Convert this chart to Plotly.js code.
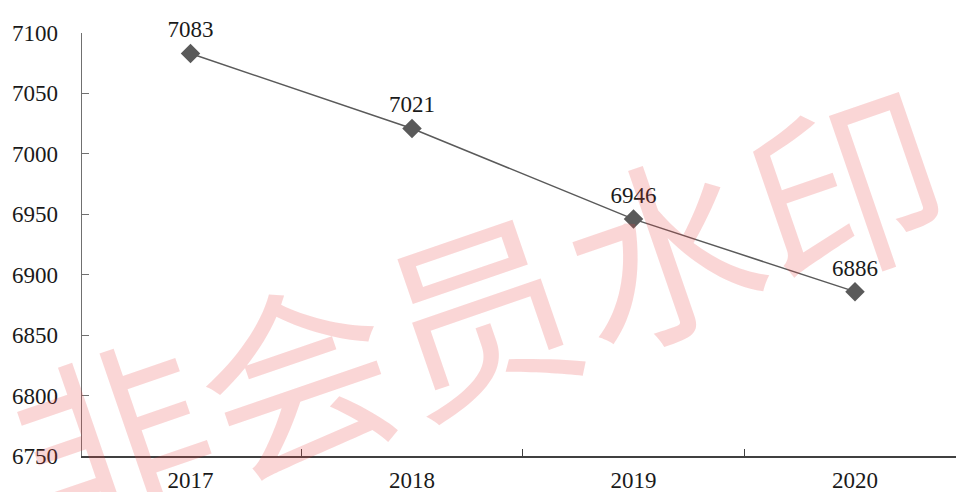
<!DOCTYPE html>
<html>
<head>
<meta charset="utf-8">
<script src="https://cdn.plot.ly/plotly-3.0.1.min.js"></script>
<style>html,body{margin:0;padding:0;background:#fff;}#chart{width:956px;height:492px;}</style>
</head>
<body>
<div id="chart"></div>
<script>
const years = ['2017', '2018', '2019', '2020'];
const values = [7083, 7021, 6946, 6886];
const yTickValues = [6750, 6800, 6850, 6900, 6950, 7000, 7050, 7100];
const watermarkText = '非会员水印';

const serif = 'Liberation Serif, Times New Roman, serif';

const trace = {
  x: years,
  y: values,
  type: 'scatter',
  mode: 'lines+markers+text',
  text: values.map(String),
  textposition: 'top center',
  textfont: {family: serif, size: 23, color: '#1a1a1a'},
  line: {color: '#5a5a5a', width: 1.5},
  marker: {symbol: 'diamond', size: 15, color: '#5a5a5a'},
  cliponaxis: false,
  hoverinfo: 'x+y'
};

const layout = {
  width: 956,
  height: 492,
  margin: {l: 82, r: 0, t: 33, b: 36},
  paper_bgcolor: '#ffffff',
  plot_bgcolor: '#ffffff',
  showlegend: false,
  xaxis: {
    type: 'category',
    range: [-0.49, 3.456],
    tickson: 'boundaries',
    ticks: 'inside',
    ticklen: 7,
    tickwidth: 1,
    tickcolor: '#404040',
    showline: true,
    linecolor: '#404040',
    linewidth: 1.5,
    showgrid: false,
    zeroline: false,
    tickfont: {family: serif, size: 23, color: '#1a1a1a'},
    ticklabelstandoff: 3
  },
  yaxis: {
    range: [6750, 7100],
    tickvals: yTickValues,
    ticktext: yTickValues.map(String),
    ticks: 'inside',
    ticklen: 7,
    tickwidth: 1,
    tickcolor: '#707070',
    showline: true,
    linecolor: '#707070',
    linewidth: 1.5,
    showgrid: false,
    zeroline: false,
    tickfont: {family: serif, size: 23, color: '#1a1a1a'},
    ticklabelstandoff: 18
  },
  annotations: [{
    text: watermarkText,
    xref: 'paper', yref: 'paper',
    x: 0.452, y: 0.356,
    xanchor: 'center', yanchor: 'middle',
    showarrow: false,
    textangle: -19,
    font: {family: 'Noto Sans CJK SC', size: 194, color: 'rgba(232,70,70,0.22)'}
  }]
};

Plotly.newPlot('chart', [trace], layout, {displayModeBar: false, staticPlot: true});
</script>
</body>
</html>
